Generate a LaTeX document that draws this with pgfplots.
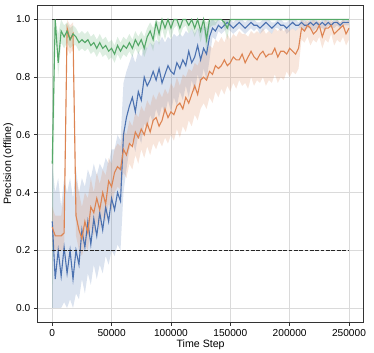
\documentclass[border=0pt]{standalone}
\usepackage{fontspec}
\setmainfont{Liberation Sans}
\usepackage{pgfplots}
\usepackage{pgfplotstable}
\pgfplotsset{compat=1.18}
\usepgfplotslibrary{fillbetween}

\definecolor{sblue}{HTML}{4C72B0}
\definecolor{sorange}{HTML}{DD8452}
\definecolor{sgreen}{HTML}{55A868}
\definecolor{spine}{HTML}{333333}
\definecolor{gridc}{HTML}{DADADA}

% t, green (mean/lo/hi), orange (mean/lo/hi), blue (mean/lo/hi)
\pgfplotstableread{
t g gl gu o ol ou b bl bu
0 .50 .00 1.00 .28 .22 .35 .30 .00 .50
2500 1.00 .98 1.00 .25 .20 .32 .10 .00 .40
5000 .85 .80 .95 .25 .20 .32 .20 .00 .45
7500 .96 .92 1.00 .25 .20 .32 .11 .00 .35
10000 .94 .90 .98 .26 .20 .40 .21 .02 .45
12500 .96 .92 .99 .97 .90 1.00 .12 .00 .40
15000 .93 .90 .97 .93 .88 .98 .20 .03 .45
17500 .95 .91 .98 .95 .90 .99 .10 .00 .38
20000 .94 .91 .97 .32 .25 .45 .20 .05 .48
22500 .92 .89 .95 .27 .20 .40 .15 .03 .40
25000 .93 .90 .96 .24 .18 .35 .27 .10 .45
27500 .92 .89 .95 .30 .22 .40 .21 .05 .42
30000 .93 .90 .96 .26 .20 .38 .30 .12 .48
32500 .91 .88 .94 .35 .28 .45 .22 .08 .45
35000 .92 .89 .95 .33 .25 .40 .31 .15 .50
37500 .90 .87 .93 .38 .30 .47 .25 .10 .46
40000 .92 .89 .95 .34 .27 .43 .33 .15 .50
42500 .90 .87 .93 .40 .32 .48 .27 .12 .48
45000 .91 .88 .94 .36 .30 .46 .35 .18 .52
47500 .89 .86 .92 .44 .36 .52 .30 .15 .50
50000 .90 .87 .93 .42 .34 .50 .38 .20 .55
52500 .88 .85 .91 .47 .40 .55 .34 .18 .55
55000 .91 .88 .94 .49 .42 .57 .40 .22 .60
57500 .89 .86 .92 .48 .41 .56 .37 .20 .58
60000 .91 .88 .94 .55 .47 .62 .60 .40 .78
62500 .90 .87 .93 .53 .45 .60 .66 .48 .82
65000 .92 .89 .95 .57 .50 .65 .70 .55 .85
67500 .90 .87 .93 .56 .48 .63 .73 .58 .88
70000 .93 .90 .96 .61 .53 .68 .68 .54 .85
72500 .91 .88 .94 .59 .50 .66 .75 .60 .89
75000 .93 .90 .96 .62 .55 .70 .72 .57 .87
77500 .90 .87 .94 .60 .52 .68 .80 .64 .91
80000 .94 .90 .97 .64 .56 .72 .77 .62 .90
82500 .96 .92 .99 .61 .53 .70 .79 .67 .92
85000 .93 .89 .97 .65 .57 .74 .82 .64 .91
87500 .99 .95 1.00 .66 .55 .72 .79 .69 .93
90000 .95 .91 .99 .63 .58 .75 .83 .66 .92
92500 1.00 .97 1.00 .65 .56 .73 .78 .70 .94
95000 .97 .93 1.00 .69 .59 .76 .81 .67 .92
97500 1.00 .97 1.00 .66 .57 .74 .84 .72 .94
100000 .97 .93 1.00 .68 .60 .78 .82 .68 .93
102500 1.00 .97 1.00 .67 .58 .76 .81 .73 .95
105000 1.00 .98 1.00 .70 .62 .80 .85 .70 .94
107500 .97 .94 1.00 .71 .59 .77 .83 .75 .95
110000 1.00 .97 1.00 .69 .63 .81 .86 .72 .94
112500 1.00 .98 1.00 .73 .61 .80 .84 .77 .96
115000 .98 .95 1.00 .71 .65 .83 .89 .73 .95
117500 1.00 .97 1.00 .74 .63 .82 .85 .79 .97
120000 .97 .94 1.00 .77 .67 .85 .87 .75 .95
122500 1.00 .97 1.00 .74 .65 .84 .91 .81 .97
125000 .96 .92 1.00 .79 .69 .87 .86 .77 .96
127500 1.00 .97 1.00 .80 .71 .89 .90 .83 .98
130000 .93 .88 .99 .79 .69 .88 .88 .79 .97
132500 1.00 .97 1.00 .82 .73 .91 .94 .86 .99
135000 1.00 .98 1.00 .81 .71 .90 .97 .94 1.00
137500 1.00 .98 1.00 .84 .75 .93 .96 .93 .99
140000 1.00 1.00 1.00 .83 .73 .92 .98 .96 1.00
142500 1.00 1.00 1.00 .84 .76 .94 .97 .95 .99
145000 .99 .97 1.00 .86 .74 .92 .98 .96 1.00
147500 .97 .93 1.00 .84 .77 .95 .99 .97 1.00
150000 1.00 1.00 1.00 .85 .75 .93 .98 .96 1.00
152500 1.00 1.00 1.00 .87 .78 .95 .97 .95 .99
155000 1.00 1.00 1.00 .86 .76 .94 .98 .96 1.00
157500 1.00 1.00 1.00 .86 .79 .96 .99 .97 1.00
160000 1.00 1.00 1.00 .88 .77 .95 .98 .96 1.00
162500 1.00 1.00 1.00 .85 .78 .95 .97 .95 .99
165000 1.00 1.00 1.00 .87 .76 .94 .98 .96 1.00
167500 1.00 1.00 1.00 .89 .80 .96 .99 .97 1.00
170000 1.00 1.00 1.00 .87 .77 .95 .98 .96 1.00
172500 1.00 1.00 1.00 .86 .79 .96 .98 .97 .99
175000 1.00 1.00 1.00 .88 .78 .95 .97 .95 .99
177500 1.00 1.00 1.00 .89 .80 .97 .98 .96 1.00
180000 1.00 1.00 1.00 .87 .77 .95 .99 .97 1.00
182500 1.00 1.00 1.00 .88 .79 .96 .98 .96 1.00
185000 1.00 1.00 1.00 .88 .78 .95 .97 .95 .99
187500 1.00 1.00 1.00 .90 .81 .97 .98 .97 .99
190000 1.00 1.00 1.00 .87 .78 .96 .99 .97 1.00
192500 1.00 1.00 1.00 .89 .80 .97 .98 .96 1.00
195000 1.00 1.00 1.00 .89 .79 .96 .98 .97 .99
197500 1.00 1.00 1.00 .88 .82 .97 .97 .95 .99
200000 1.00 1.00 1.00 .90 .80 .96 .98 .96 1.00
202500 1.00 1.00 1.00 .89 .82 .97 .99 .97 1.00
205000 1.00 1.00 1.00 .88 .81 .96 .98 .96 1.00
207500 1.00 1.00 1.00 .90 .83 .97 .98 .97 .99
210000 1.00 1.00 1.00 .97 .93 1.00 .99 .97 1.00
212500 1.00 1.00 1.00 .96 .92 .99 .98 .96 1.00
215000 1.00 1.00 1.00 .98 .94 1.00 .98 .97 .99
217500 1.00 1.00 1.00 .97 .91 .99 .99 .97 1.00
220000 1.00 1.00 1.00 .95 .93 1.00 .98 .96 1.00
222500 1.00 1.00 1.00 .96 .92 .99 .99 .97 1.00
225000 1.00 1.00 1.00 .98 .94 1.00 .98 .97 .99
227500 1.00 1.00 1.00 .94 .90 .98 .99 .97 1.00
230000 1.00 1.00 1.00 .97 .93 1.00 .98 .96 1.00
232500 1.00 1.00 1.00 .97 .92 .99 .99 .98 1.00
235000 1.00 1.00 1.00 .98 .95 1.00 .98 .97 .99
237500 1.00 1.00 1.00 .95 .91 .99 .99 .97 1.00
240000 1.00 1.00 1.00 .96 .93 1.00 .99 .98 1.00
242500 1.00 1.00 1.00 .97 .92 .99 .98 .97 .99
245000 1.00 1.00 1.00 .98 .94 1.00 .99 .98 1.00
247500 1.00 1.00 1.00 .95 .91 .99 .99 .98 1.00
250000 1.00 1.00 1.00 .97 .93 1.00 .99 .98 1.00
}\runs

\begin{document}
\begin{tikzpicture}
\begin{axis}[
  scale only axis, width=321bp, height=312bp,
  xmin=-12500, xmax=262500, ymin=-0.05, ymax=1.05,
  xtick={0,50000,100000,150000,200000,250000},
  ytick={0,0.2,0.4,0.6,0.8,1.0},
  scaled x ticks=false,
  /pgf/number format/assume math mode=true,
  xticklabel style={/pgf/number format/fixed,/pgf/number format/1000 sep={}},
  yticklabel style={/pgf/number format/fixed,/pgf/number format/fixed zerofill,/pgf/number format/precision=1},
  ticklabel style={font=\fontsize{10}{12}\selectfont},
  label style={font=\fontsize{10.5}{12}\selectfont},
  xlabel={Time Step}, ylabel={Precision (offline)},
  xlabel style={yshift=4pt}, ylabel style={yshift=-4pt},
  grid=major, major grid style={gridc,line width=0.8pt},
  axis line style={spine,line width=0.8pt},
  tick align=outside, major tick length=3.5bp,
  tick style={spine,line width=0.8pt},
  xtick pos=bottom, ytick pos=left,
]
% bands
\addplot[name path=bU,draw=none,forget plot] table[x=t,y=bu]{\runs};
\addplot[name path=bL,draw=none,forget plot] table[x=t,y=bl]{\runs};
\addplot[sblue,fill opacity=0.2,draw=none,forget plot] fill between[of=bU and bL];
\addplot[name path=oU,draw=none,forget plot] table[x=t,y=ou]{\runs};
\addplot[name path=oL,draw=none,forget plot] table[x=t,y=ol]{\runs};
\addplot[sorange,fill opacity=0.2,draw=none,forget plot] fill between[of=oU and oL];
\addplot[name path=gU,draw=none,forget plot] table[x=t,y=gu]{\runs};
\addplot[name path=gL,draw=none,forget plot] table[x=t,y=gl]{\runs};
\addplot[sgreen,fill opacity=0.2,draw=none,forget plot] fill between[of=gU and gL];
% reference lines
\addplot[black!85,line width=1.2pt] coordinates {(0,1)(250000,1)};
% means
\addplot[sblue,line width=1.1pt] table[x=t,y=b]{\runs};
\addplot[sorange,line width=1.1pt] table[x=t,y=o]{\runs};
\addplot[sgreen,line width=1.1pt] table[x=t,y=g]{\runs};
\addplot[black!85,line width=1.0pt,dash pattern=on 3.7pt off 1.6pt] coordinates {(0,0.2)(250000,0.2)};
\end{axis}
\path ([xshift=10bp]current axis.east) ([yshift=5bp]current axis.north);
\end{tikzpicture}
\end{document}
